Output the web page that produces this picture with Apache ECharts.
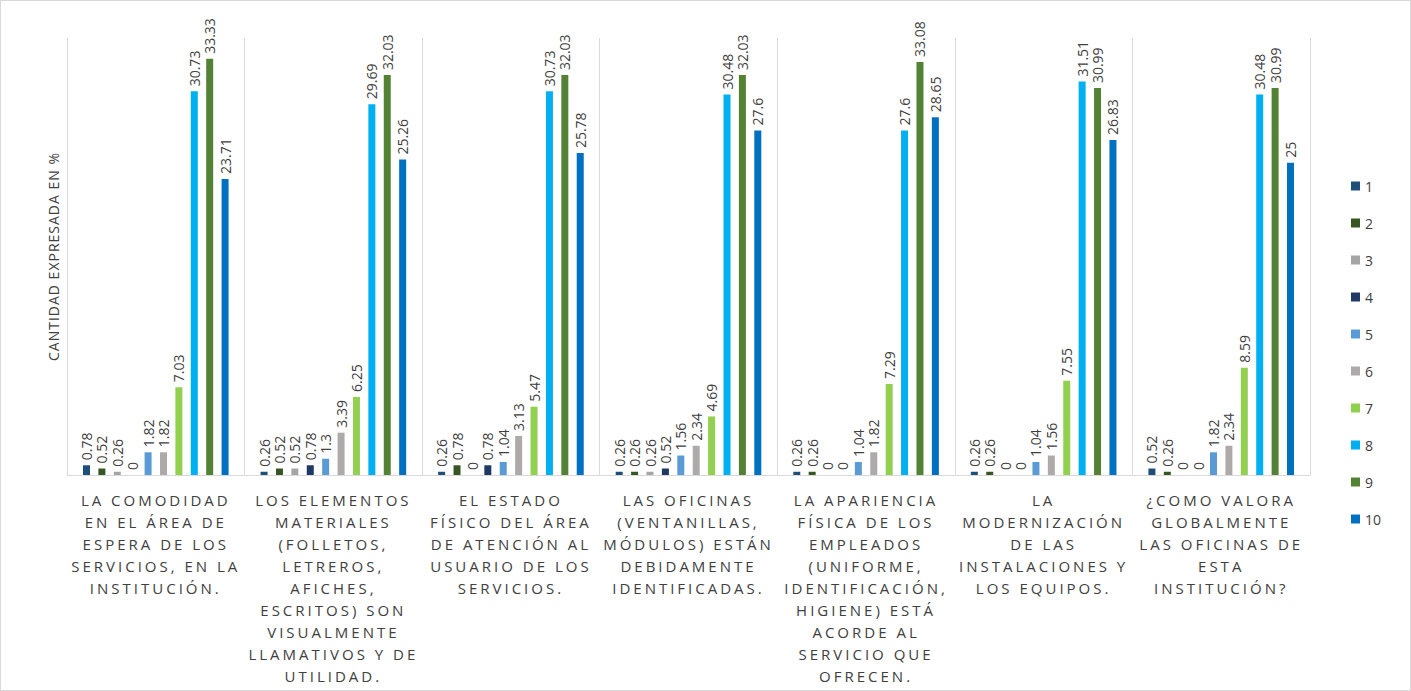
<!DOCTYPE html>
<html><head><meta charset="utf-8">
<script src="https://cdn.jsdelivr.net/npm/echarts@6/dist/echarts.min.js"></script>
<style>html,body{margin:0;padding:0;background:#fff}#c{width:1411px;height:691px;box-sizing:border-box;border:1px solid #d9d9d9}</style>
</head><body><div id="c"></div>
<script>
const categories = [
  "LA COMODIDAD\nEN EL ÁREA DE\nESPERA DE LOS\nSERVICIOS, EN LA\nINSTITUCIÓN.",
  "LOS ELEMENTOS\nMATERIALES\n(FOLLETOS,\nLETREROS,\nAFICHES,\nESCRITOS) SON\nVISUALMENTE\nLLAMATIVOS Y DE\nUTILIDAD.",
  "EL ESTADO\nFÍSICO DEL ÁREA\nDE ATENCIÓN AL\nUSUARIO DE LOS\nSERVICIOS.",
  "LAS OFICINAS\n(VENTANILLAS,\nMÓDULOS) ESTÁN\nDEBIDAMENTE\nIDENTIFICADAS.",
  "LA APARIENCIA\nFÍSICA DE LOS\nEMPLEADOS\n(UNIFORME,\nIDENTIFICACIÓN,\nHIGIENE) ESTÁ\nACORDE AL\nSERVICIO QUE\nOFRECEN.",
  "LA\nMODERNIZACIÓN\nDE LAS\nINSTALACIONES Y\nLOS EQUIPOS.",
  "¿COMO VALORA\nGLOBALMENTE\nLAS OFICINAS DE\nESTA\nINSTITUCIÓN?"
];
const seriesNames = ["1","2","3","4","5","6","7","8","9","10"];
const s1  = [0.78, 0.26, 0.26, 0.26, 0.26, 0.26, 0.52];
const s2  = [0.52, 0.52, 0.78, 0.26, 0.26, 0.26, 0.26];
const s3  = [0.26, 0.52, 0,    0.26, 0,    0,    0];
const s4  = [0,    0.78, 0.78, 0.52, 0,    0,    0];
const s5  = [1.82, 1.3,  1.04, 1.56, 1.04, 1.04, 1.82];
const s6  = [1.82, 3.39, 3.13, 2.34, 1.82, 1.56, 2.34];
const s7  = [7.03, 6.25, 5.47, 4.69, 7.29, 7.55, 8.59];
const s8  = [30.73,29.69,30.73,30.48,27.6, 31.51,30.48];
const s9  = [33.33,32.03,32.03,32.03,33.08,30.99,30.99];
const s10 = [23.71,25.26,25.78,27.6, 28.65,26.83,25];
const allSeries = [s1,s2,s3,s4,s5,s6,s7,s8,s9,s10];
const yTitle = 'CANTIDAD EXPRESADA EN %';
const colors = ["#1f4e79","#375623","#a5a5a5","#203864","#5b9bd5","#aeaaaa","#92d050","#00b0f0","#548235","#0070c0"];

const chart = echarts.init(document.getElementById('c'), null, {renderer: 'svg'});
chart.setOption({
  animation: false,
  color: colors,
  textStyle: {fontFamily: "'Open Sans', sans-serif"},
  grid: {left: 66, right: 100, top: 37, bottom: 215, containLabel: false},
  legend: {
    orient: 'vertical', right: 24, top: 173,
    itemWidth: 9, itemHeight: 9, itemGap: 23,
    icon: 'rect',
    textStyle: {fontSize: 14, color: '#404040', fontFamily: "'Open Sans', sans-serif"},
    data: seriesNames
  },
  xAxis: {
    type: 'category', data: categories,
    axisLine: {lineStyle: {color: '#d9d9d9'}},
    axisTick: {show: false},
    splitLine: {show: true, lineStyle: {color: '#d9d9d9'}},
    axisLabel: {interval: 0, color: '#404040', fontSize: 15, lineHeight: 22, margin: 14,
      fontFamily: "'Open Sans', sans-serif"}
  },
  yAxis: {
    type: 'value', min: 0, max: 35,
    name: yTitle, nameLocation: 'middle', nameGap: 7,
    nameTextStyle: {color: '#404040', fontSize: 14},
    axisLine: {show: false}, axisTick: {show: false}, axisLabel: {show: false},
    splitLine: {show: false}
  },
  series: allSeries.map((d, i) => ({
    name: seriesNames[i], type: 'bar', data: d,
    barWidth: 7, barGap: '120%',
    label: {show: true, position: 'top', rotate: 90, align: 'left', verticalAlign: 'middle',
      distance: 5, color: '#404040', fontSize: 14}
  }))
});

// widen letter spacing of the category labels as in the reference
const catLines = new Set(categories.flatMap(c => c.split('\n')));
document.querySelectorAll('#c svg text').forEach(t => {
  const s = t.textContent;
  if (catLines.has(s)) t.style.letterSpacing = '3px';
  else if (s === yTitle) t.style.letterSpacing = '1px';
});
</script></body></html>
